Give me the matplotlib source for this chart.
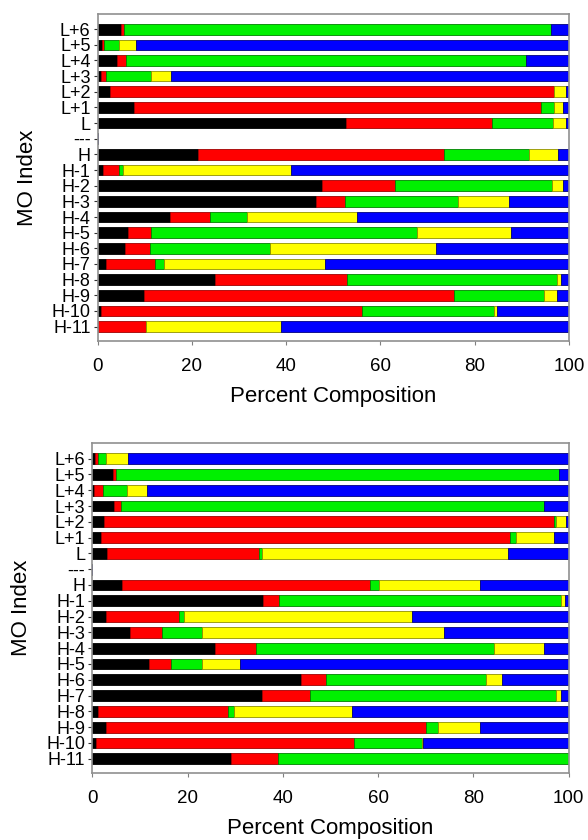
import matplotlib
matplotlib.use('Agg')
import matplotlib.pyplot as plt
import numpy as np

plt.rcParams['font.family'] = ['Liberation Sans', 'DejaVu Sans']

# MO labels, top to bottom
labels = ['L+6', 'L+5', 'L+4', 'L+3', 'L+2', 'L+1', 'L', '---',
          'H', 'H-1', 'H-2', 'H-3', 'H-4', 'H-5', 'H-6', 'H-7',
          'H-8', 'H-9', 'H-10', 'H-11']

# top panel (percent per fragment)
top_black = [5.0, 1.0, 4.2, 0.8, 2.7, 7.7, 52.8, 0,
             21.3, 1.2, 47.7, 46.3, 15.4, 6.5, 5.9, 1.7, 24.9, 9.8, 0.8, 0.0]
top_red = [0.7, 0.3, 1.9, 1.0, 94.1, 86.3, 30.8, 0,
           52.1, 3.3, 15.3, 6.1, 8.5, 4.8, 5.2, 10.4, 28.0, 65.9, 55.2, 10.3]
top_green = [90.5, 3.2, 84.7, 9.5, 0.0, 2.8, 13.0, 0,
             18.1, 0.9, 33.3, 24.0, 7.9, 56.4, 25.5, 1.9, 44.5, 18.9, 28.1, 0.0]
top_yellow = [0.0, 3.7, 0.0, 4.3, 2.5, 1.9, 2.7, 0,
              6.2, 35.6, 2.5, 10.8, 23.2, 20.0, 35.1, 34.3, 0.8, 2.8, 0.7, 28.6]
top_blue = [3.8, 91.8, 9.2, 84.4, 0.7, 1.3, 0.7, 0,
            2.3, 59.0, 1.2, 12.8, 45.0, 12.3, 28.3, 51.7, 1.8, 2.6, 15.2, 61.1]

# bottom panel
bot_black = [0.6, 4.4, 0.3, 4.6, 2.5, 1.8, 3.0, 0,
             6.2, 35.9, 2.8, 8.0, 25.7, 11.9, 43.9, 35.7, 1.1, 2.8, 0.8, 29.1]
bot_red = [0.5, 0.5, 2.0, 1.4, 94.4, 86.0, 32.0, 0,
           52.1, 3.3, 15.4, 6.6, 8.6, 4.6, 5.1, 10.0, 27.3, 67.3, 54.2, 9.8]
bot_green = [1.8, 93.1, 4.9, 88.8, 0.5, 1.1, 0.7, 0,
             1.9, 59.3, 1.1, 8.5, 50.0, 6.6, 33.7, 51.6, 1.4, 2.5, 14.3, 61.1]
bot_yellow = [4.7, 0.0, 4.2, 0.0, 2.1, 8.0, 51.6, 0,
              21.1, 0.7, 47.9, 50.7, 10.5, 7.9, 3.4, 1.0, 24.8, 8.9, 0.2, 0.0]
bot_blue = [92.4, 2.0, 88.6, 5.2, 0.5, 3.1, 12.7, 0,
            18.7, 0.8, 32.8, 26.2, 5.2, 69.0, 13.9, 1.7, 45.4, 18.5, 30.5, 0.0]

colors = ['#000000', '#ff0000', '#00f000', '#ffff00', '#0000ff']
edges = ['#000000', '#a00000', '#008000', '#909000', '#000080']


def draw_panel(ax, series):
    y = np.arange(len(labels))
    left = np.zeros(len(labels))
    for vals, c, e in zip(series, colors, edges):
        vals = np.array(vals)
        ax.barh(y, vals, left=left, height=0.68, color=c, edgecolor=e,
                linewidth=0.6)
        left += vals
    ax.set_xlim(0, 100)
    ax.set_ylim(19.92, -0.97)
    ax.set_yticks(y)
    ax.set_yticklabels(labels, fontsize=13)
    ax.set_xticks([0, 20, 40, 60, 80, 100])
    ax.tick_params(axis='x', labelsize=13.5, length=3, color='#808080', pad=9)
    ax.tick_params(axis='y', length=3, pad=2, color='#303030')
    for s in ax.spines.values():
        s.set_color('#909090')
        s.set_linewidth(1.2)
    ax.set_xlabel('Percent Composition', fontsize=16, labelpad=8)
    ax.set_ylabel('MO Index', fontsize=16, labelpad=10)


fig = plt.figure(figsize=(5.88, 8.4), dpi=100)
ax1 = fig.add_axes([97.5 / 588, 1 - 341 / 840, 471.5 / 588, 327 / 840])
ax2 = fig.add_axes([92.3 / 588, 1 - 773.3 / 840, 476.3 / 588, 330 / 840])

draw_panel(ax1, [top_black, top_red, top_green, top_yellow, top_blue])
draw_panel(ax2, [bot_black, bot_red, bot_green, bot_yellow, bot_blue])

fig.savefig('out.png', dpi=100)
